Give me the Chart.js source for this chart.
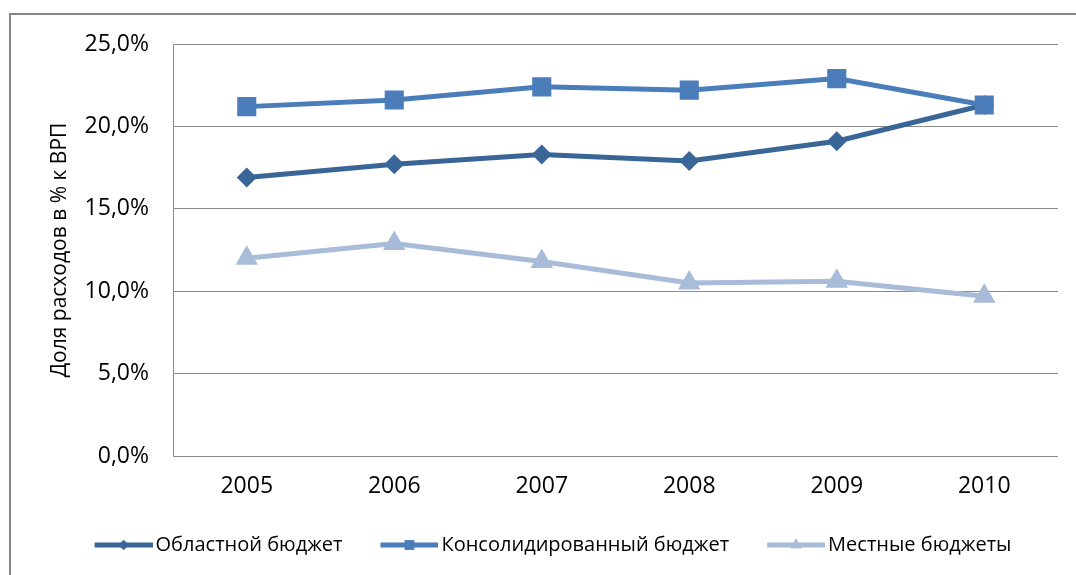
<!DOCTYPE html>
<html>
<head>
<meta charset="utf-8">
<style>
    body { margin: 0; background: #fff; }
    #wrap { width: 1076px; height: 575px; }
</style>
</head>
<body>
<div id="wrap"><canvas id="chart" width="1076" height="575"></canvas></div>

<script src="https://cdn.jsdelivr.net/npm/chart.js"></script>

<script>
    const years = ['2005', '2006', '2007', '2008', '2009', '2010']
    const oblastBudget = [16.9, 17.7, 18.3, 17.9, 19.1, 21.3]
    const consolidatedBudget = [21.2, 21.6, 22.4, 22.2, 22.9, 21.3]
    const localBudgets = [12.0, 12.9, 11.8, 10.5, 10.6, 9.7]
    const seriesNames = ['Областной бюджет', 'Консолидированный бюджет', 'Местные бюджеты']
    const yTicks = [0, 5, 10, 15, 20, 25]

    const colors = ['#3a6597', '#4a7dba', '#a8bbd9']
    const styles = ['rectRot', 'rect', 'triangle']
    const radii = [10, 13.5, 13]

    const FONT = "'Open Sans', 'Liberation Sans', sans-serif"
    const legendFont = 20
    const legendBox = 79

    // legend sample: line with the marker on it, drawn into a small canvas
    function legendSample(i) {
        const c = document.createElement('canvas')
        c.width = legendBox + legendFont - 6
        c.height = 24
        const ctx = c.getContext('2d')
        const x0 = c.width - 58
        ctx.strokeStyle = colors[i]
        ctx.lineWidth = 5
        ctx.beginPath()
        ctx.moveTo(x0, 12)
        ctx.lineTo(c.width, 12)
        ctx.stroke()
        ctx.fillStyle = colors[i]
        Chart.helpers.drawPoint(ctx, {pointStyle: styles[i], radius: radii[i] * 0.5, rotation: 0}, x0 + 29, 12)
        ctx.fill()
        return c
    }

    const frame = {
        id: 'frame',
        beforeDraw(chart) {
            const ctx = chart.ctx
            ctx.save()
            ctx.strokeStyle = '#878787'
            ctx.lineWidth = 2
            ctx.strokeRect(10, 14, 1100, 600)
            ctx.restore()
        }
    }

    const ctx = document.getElementById('chart')
    const data = [oblastBudget, consolidatedBudget, localBudgets]

    new Chart(ctx, {
        type: 'line',
        data: {
            labels: years,
            datasets: data.map((values, i) => ({
                label: seriesNames[i],
                data: values,
                order: 3 - i, // later series drawn on top, as in the original
                borderColor: colors[i],
                backgroundColor: colors[i],
                borderWidth: 5,
                pointStyle: styles[i],
                pointRadius: radii[i],
                pointHoverRadius: radii[i],
                pointBorderWidth: 0,
                tension: 0
            }))
        },
        options: {
            responsive: false,
            animation: false,
            layout: {padding: {left: 20, right: 18, top: 44, bottom: 10}},
            plugins: {
                tooltip: {enabled: false},
                legend: {
                    position: 'bottom',
                    labels: {
                        usePointStyle: true,
                        pointStyleWidth: legendBox,
                        padding: 10,
                        color: '#000',
                        font: {family: FONT, size: legendFont},
                        generateLabels: chart => chart.data.datasets.map((ds, i) => ({
                            text: ds.label,
                            pointStyle: legendSample(i),
                            fillStyle: colors[i],
                            strokeStyle: colors[i],
                            lineWidth: 0,
                            hidden: false,
                            datasetIndex: i,
                            fontColor: '#000'
                        }))
                    }
                }
            },
            scales: {
                x: {
                    offset: true,
                    grid: {display: false, drawTicks: false},
                    border: {display: false},
                    ticks: {color: '#000', padding: 17, font: {family: FONT, size: 23}},
                    afterFit: scale => { scale.height = 69 }
                },
                y: {
                    min: 0,
                    max: 25,
                    afterBuildTicks: scale => { scale.ticks = yTicks.map(v => ({value: v})) },
                    grid: {color: '#8a8a8a', lineWidth: 1, drawTicks: false},
                    border: {display: true, color: '#8a8a8a', width: 1},
                    ticks: {
                        color: '#000',
                        padding: 24,
                        font: {family: FONT, size: 23},
                        callback: v => v.toFixed(1).replace('.', ',') + '%'
                    },
                    title: {
                        display: true,
                        text: 'Доля расходов в % к ВРП',
                        color: '#000',
                        padding: {top: 27, bottom: 0},
                        font: {family: FONT, size: 21}
                    },
                    afterFit: scale => { scale.width = 153 }
                }
            }
        },
        plugins: [frame]
    })
</script>
</body>
</html>
